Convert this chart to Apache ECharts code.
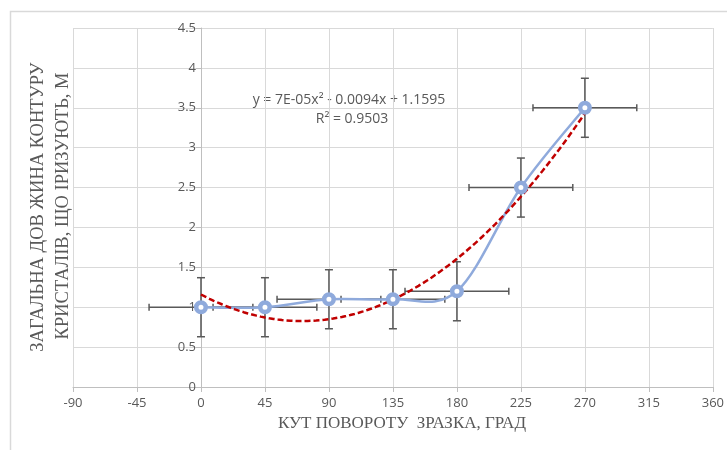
<!DOCTYPE html>
<html>
<head>
<meta charset="utf-8">
<script src="https://cdn.jsdelivr.net/npm/echarts@6/dist/echarts.min.js"></script>
<style>
html,body{margin:0;padding:0;background:#fff;}
#chart{width:727px;height:450px;}
</style>
</head>
<body>
<div id="chart"></div>
<script>
// ---- data ----
const angles = [0, 45, 90, 135, 180, 225, 270];          // degrees
const lengths = [1, 1, 1.1, 1.1, 1.2, 2.5, 3.5];         // m
const angleErr = [36.5, 36.5, 36.5, 36.5, 36.5, 36.5, 36.5];
const lengthErr = [0.37, 0.37, 0.37, 0.37, 0.37, 0.37, 0.37];
const xTicks = { min: -90, max: 360, interval: 45 };
const yTicks = { min: 0, max: 4.5, interval: 0.5 };
const trendLabel = ['y = 7E-05x² - 0.0094x + 1.1595', 'R² = 0.9503'];
const xTitle = 'КУТ ПОВОРОТУ  ЗРАЗКА, ГРАД';
const yTitle = ['ЗАГАЛЬНА ДОВ ЖИНА КОНТУРУ', 'КРИСТАЛІВ, ЩО ІРИЗУЮТЬ, М'];

// ---- 2nd order polynomial trendline (least squares, as the spreadsheet does) ----
function polyFit2(xs, ys) {
  let S = [0,0,0,0,0], T = [0,0,0];
  for (let i = 0; i < xs.length; i++) {
    let p = 1;
    for (let k = 0; k < 5; k++) { S[k] += p; if (k < 3) T[k] += p * ys[i]; p *= xs[i]; }
  }
  const A = [[S[0],S[1],S[2],T[0]],[S[1],S[2],S[3],T[1]],[S[2],S[3],S[4],T[2]]];
  for (let c = 0; c < 3; c++) {
    for (let r = c + 1; r < 3; r++) {
      const f = A[r][c] / A[c][c];
      for (let k = c; k < 4; k++) A[r][k] -= f * A[c][k];
    }
  }
  const x = [0,0,0];
  for (let r = 2; r >= 0; r--) {
    let s = A[r][3];
    for (let k = r + 1; k < 3; k++) s -= A[r][k] * x[k];
    x[r] = s / A[r][r];
  }
  return x; // c0, c1, c2
}
const coef = polyFit2(angles, lengths);
const trendData = [];
const x0 = angles[0], x1 = angles[angles.length - 1];
for (let i = 0; i <= 90; i++) {
  const x = x0 + (x1 - x0) * i / 90;
  trendData.push([x, coef[0] + coef[1] * x + coef[2] * x * x]);
}

const pointData = angles.map((a, i) => [a, lengths[i]]);
const segData = angles.map((a, i) => [a, lengths[i], i]);
const errData = angles.map((a, i) => [a, lengths[i], angleErr[i], lengthErr[i]]);

const gridBox = { left: 73, right: 14, top: 28, bottom: 63 };
const plotW = 727 - gridBox.left - gridBox.right;
const yAxisOffset = -(0 - xTicks.min) / (xTicks.max - xTicks.min) * plotW;

const chart = echarts.init(document.getElementById('chart'), null, { renderer: 'canvas' });
const labelFont = { color: '#595959', fontSize: 13, fontFamily: 'Open Sans' };
const gridColor = '#D9D9D9';
const blue = '#8FAADC';

chart.setOption({
  animation: false,
  backgroundColor: '#ffffff',
  grid: Object.assign({ containLabel: false }, gridBox),
  xAxis: {
    type: 'value', min: xTicks.min, max: xTicks.max, interval: xTicks.interval,
    axisLine: { show: true, onZero: false, lineStyle: { color: '#BFBFBF', width: 1 } },
    axisTick: { show: true, length: 5, lineStyle: { color: '#BFBFBF' } },
    axisLabel: Object.assign({ margin: 10 }, labelFont),
    splitLine: { show: true, lineStyle: { color: gridColor, width: 1 } }
  },
  yAxis: {
    type: 'value', min: yTicks.min, max: yTicks.max, interval: yTicks.interval,
    offset: yAxisOffset,
    axisLine: { show: true, onZero: false, lineStyle: { color: '#BFBFBF', width: 1 } },
    axisTick: { show: true, length: 5, lineStyle: { color: '#BFBFBF' } },
    axisLabel: Object.assign({ margin: 5 }, labelFont),
    splitLine: { show: true, lineStyle: { color: gridColor, width: 1 } }
  },
  series: [
    {
      type: 'custom',
      name: 'errors',
      z: 2,
      data: errData,
      encode: { x: 0, y: 1 },
      renderItem: function (params, api) {
        const x = api.value(0), y = api.value(1), xe = api.value(2), ye = api.value(3);
        const L = api.coord([x - xe, y]), R = api.coord([x + xe, y]);
        const T = api.coord([x, y + ye]), B = api.coord([x, y - ye]);
        const st = { stroke: '#595959', lineWidth: 1.5 };
        const hc = 3.5, vc = 4;
        const seg = (a, b, c, d) => ({ type: 'line', shape: { x1: a, y1: b, x2: c, y2: d }, style: st });
        return {
          type: 'group',
          children: [
            seg(L[0], L[1], R[0], R[1]),
            seg(L[0], L[1] - hc, L[0], L[1] + hc),
            seg(R[0], R[1] - hc, R[0], R[1] + hc),
            seg(T[0], T[1], B[0], B[1]),
            seg(T[0] - vc, T[1], T[0] + vc, T[1]),
            seg(B[0] - vc, B[1], B[0] + vc, B[1])
          ]
        };
      }
    },
    {
      // smoothed connecting line (spreadsheet-style cubic Bezier between points)
      type: 'custom',
      name: 'smooth',
      z: 3,
      data: segData,
      encode: { x: 0, y: 1 },
      renderItem: function (params, api) {
        const i = api.value(2);
        const n = pointData.length;
        if (i >= n - 1) return null;
        const P = k => api.coord(pointData[Math.max(0, Math.min(n - 1, k))]);
        const p0 = P(i - 1), p1 = P(i), p2 = P(i + 1), p3 = P(i + 2);
        const c1 = [p1[0] + (p2[0] - p0[0]) / 6, p1[1] + (p2[1] - p0[1]) / 6];
        const c2 = [p2[0] - (p3[0] - p1[0]) / 6, p2[1] - (p3[1] - p1[1]) / 6];
        return {
          type: 'bezierCurve',
          shape: { x1: p1[0], y1: p1[1], cpx1: c1[0], cpy1: c1[1], cpx2: c2[0], cpy2: c2[1], x2: p2[0], y2: p2[1] },
          style: { stroke: blue, lineWidth: 2.5, fill: null }
        };
      }
    },
    {
      type: 'line',
      name: 'trend',
      z: 4,
      data: trendData,
      showSymbol: false,
      symbol: 'none',
      lineStyle: { color: '#C00000', width: 2.5, type: [6, 3] }
    },
    {
      type: 'scatter',
      name: 'data',
      z: 5,
      data: pointData,
      symbol: 'circle',
      symbolSize: 9.5,
      itemStyle: { color: '#ffffff', borderColor: blue, borderWidth: 4.5, opacity: 1 }
    }
  ],
  graphic: [
    {
      type: 'rect', silent: true, z: -10,
      shape: { x: 10.5, y: 11.5, width: 740, height: 460 },
      style: { fill: null, stroke: '#D9D9D9', lineWidth: 1.5 }
    },
    {
      type: 'text', x: 349, y: 100,
      style: { text: trendLabel[0], fill: '#595959', font: '14px "Open Sans"', textAlign: 'center', textVerticalAlign: 'middle' }
    },
    {
      type: 'text', x: 352, y: 119,
      style: { text: trendLabel[1], fill: '#595959', font: '14px "Open Sans"', textAlign: 'center', textVerticalAlign: 'middle' }
    },
    {
      type: 'text', x: 402, y: 424,
      style: { text: xTitle, fill: '#595959', font: '17px "Liberation Serif"', textAlign: 'center', textVerticalAlign: 'middle' }
    },
    {
      type: 'text', x: 38, y: 207, rotation: Math.PI / 2,
      style: { text: yTitle[0], fill: '#595959', font: '18.5px "Liberation Serif"', textAlign: 'center', textVerticalAlign: 'middle' }
    },
    {
      type: 'text', x: 63, y: 206, rotation: Math.PI / 2,
      style: { text: yTitle[1], fill: '#595959', font: '18.5px "Liberation Serif"', textAlign: 'center', textVerticalAlign: 'middle' }
    }
  ]
});
</script>
</body>
</html>
